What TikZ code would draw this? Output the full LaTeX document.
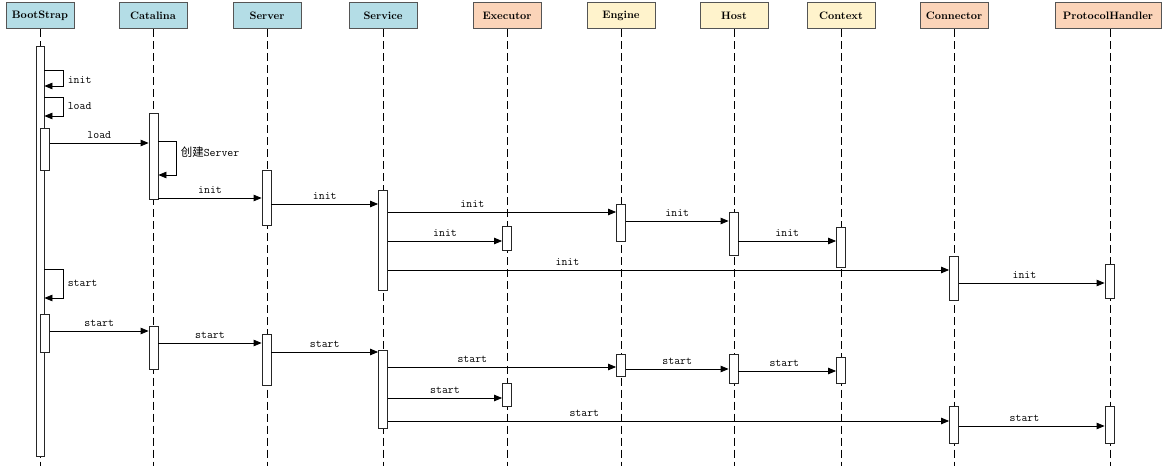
\documentclass[tikz,border=0pt]{standalone}
\usepackage{fontspec}
\newfontfamily\cjk{Noto Sans CJK SC}
\usetikzlibrary{arrows.meta, positioning}
\definecolor{hdblue}{HTML}{B4DDE6}
\definecolor{hdpeach}{HTML}{FBD4B9}
\definecolor{hdyellow}{HTML}{FFF3CC}
\definecolor{rim}{HTML}{555555}
\tikzset{
  head/.style={draw=rim, line width=1pt, minimum width=68pt, minimum height=26pt, inner sep=0pt, font=\fontsize{10.8}{12}\selectfont\bfseries},
  life/.style={dash pattern=on 8pt off 4pt, line width=0.8pt},
  act/.style={draw=black!85, fill=white, line width=0.8pt, minimum width=9pt, inner sep=0pt},
  msg/.style={-{Triangle[length=8pt,width=6.5pt]}, line width=0.8pt},
  lbl/.style={font=\ttfamily\fontsize{11.5}{12}\selectfont, inner sep=1pt}
}
\begin{document}
\begin{tikzpicture}[x=1pt, y=-1pt]
  \useasboundingbox (0,0) rectangle (1170,470);
  % participants
  \node[head, fill=hdblue] (bs) at (40,16) {BootStrap};
  \node[head, fill=hdblue] (ca) at (153,16) {Catalina};
  \node[head, fill=hdblue] (se) at (267,16) {Server};
  \node[head, fill=hdblue] (sv) at (383,16) {Service};
  \node[head, fill=hdpeach] (ex) at (507,16) {Executor};
  \node[head, fill=hdyellow] (en) at (621,16) {Engine};
  \node[head, fill=hdyellow] (ho) at (734,16) {Host};
  \node[head, fill=hdyellow] (co) at (841,16) {Context};
  \node[head, fill=hdpeach] (cn) at (954,16) {Connector};
  \node[head, fill=hdpeach, minimum width=106pt] (ph) at (1108,16) {ProtocolHandler};
  % lifelines
  \foreach \p in {bs, ca, se, sv, ex, en, ho, co, cn}
    \draw[life] (\p.south) -- (\p.south |- 0,466);
  \draw[life] (ph.south -| 1110,0) -- (1110,466);
  % activations, init phase
  \node[act, minimum width=8pt, minimum height=410pt] (bs0) at (40,251) {};
  \node[act, minimum height=42pt] (bs1) at (45,149) {};
  \node[act, minimum height=86pt] (ca1) at (153.5,156) {};
  \node[act, minimum height=55pt] (se1) at (266.5,197.5) {};
  \node[act, minimum height=100pt] (sv1) at (383,240) {};
  \node[act, minimum height=37pt] (en1) at (621,222.5) {};
  \node[act, minimum height=43pt] (ho1) at (733.5,233.5) {};
  \node[act, minimum height=40pt] (co1) at (841,247) {};
  \node[act, minimum height=24pt] (ex1) at (507,238) {};
  \node[act, minimum height=44pt] (cn1) at (954,278) {};
  \node[act, minimum height=34pt] (ph1) at (1109.5,281) {};
  % activations, start phase
  \node[act, minimum height=38pt] (bs2) at (45,333) {};
  \node[act, minimum height=43pt] (ca2) at (153.5,347.5) {};
  \node[act, minimum height=51pt] (se2) at (266.5,359.5) {};
  \node[act, minimum height=78pt] (sv2) at (383,389) {};
  \node[act, minimum height=22pt] (en2) at (621,365) {};
  \node[act, minimum height=29pt] (ho2) at (733.5,368.5) {};
  \node[act, minimum height=26pt] (co2) at (841,370) {};
  \node[act, minimum height=23pt] (ex2) at (507,394.5) {};
  \node[act, minimum height=37pt] (cn2) at (954,424.5) {};
  \node[act, minimum height=37pt] (ph2) at (1109.5,424.5) {};
  % self calls
  \draw[msg] (bs0.east |- 0,70) -- ++(19,0) -- node[lbl, right=3pt, pos=0.6] {init} ++(0,16) -- (bs0.east |- 0,86);
  \draw[msg] (bs0.east |- 0,97) -- ++(19,0) -- node[lbl, right=3pt, pos=0.45] {load} ++(0,19) -- (bs0.east |- 0,116);
  \draw[msg] (ca1.east |- 0,141) -- ++(18,0) -- node[lbl, right=3pt, pos=0.33] {{\cjk 创建}Server} ++(0,34) -- (ca1.east |- 0,175);
  \draw[msg] (bs0.east |- 0,269) -- ++(19,0) -- node[lbl, right=3pt] {start} ++(0,29) -- (bs0.east |- 0,298);
  % init messages
  \draw[msg] (bs1.east |- 0,143) -- node[lbl, above=3pt] {load} (ca1.west |- 0,143);
  \draw[msg] (ca1.east |- 0,198) -- node[lbl, above=3pt] {init} (se1.west |- 0,198);
  \draw[msg] (se1.east |- 0,204) -- node[lbl, above=3pt] {init} (sv1.west |- 0,204);
  \draw[msg] (sv1.east |- 0,212) -- node[lbl, above=3pt, pos=0.37] {init} (en1.west |- 0,212);
  \draw[msg] (en1.east |- 0,221) -- node[lbl, above=3pt] {init} (ho1.west |- 0,221);
  \draw[msg] (ho1.east |- 0,241) -- node[lbl, above=3pt] {init} (co1.west |- 0,241);
  \draw[msg] (sv1.east |- 0,241) -- node[lbl, above=3pt] {init} (ex1.west |- 0,241);
  \draw[msg] (sv1.east |- 0,270) -- node[lbl, above=3pt, pos=0.32] {init} (cn1.west |- 0,270);
  \draw[msg] (cn1.east |- 0,283) -- node[lbl, above=3pt, pos=0.45] {init} (ph1.west |- 0,283);
  % start messages
  \draw[msg] (bs2.east |- 0,331) -- node[lbl, above=3pt] {start} (ca2.west |- 0,331);
  \draw[msg] (ca2.east |- 0,343) -- node[lbl, above=3pt] {start} (se2.west |- 0,343);
  \draw[msg] (se2.east |- 0,352) -- node[lbl, above=3pt] {start} (sv2.west |- 0,352);
  \draw[msg] (sv2.east |- 0,367) -- node[lbl, above=3pt, pos=0.37] {start} (en2.west |- 0,367);
  \draw[msg] (en2.east |- 0,369) -- node[lbl, above=3pt] {start} (ho2.west |- 0,369);
  \draw[msg] (ho2.east |- 0,371) -- node[lbl, above=3pt, pos=0.47] {start} (co2.west |- 0,371);
  \draw[msg] (sv2.east |- 0,398) -- node[lbl, above=3pt] {start} (ex2.west |- 0,398);
  \draw[msg] (sv2.east |- 0,421) -- node[lbl, above=3pt, pos=0.35] {start} (cn2.west |- 0,421);
  \draw[msg] (cn2.east |- 0,426) -- node[lbl, above=3pt, pos=0.45] {start} (ph2.west |- 0,426);
\end{tikzpicture}
\end{document}
